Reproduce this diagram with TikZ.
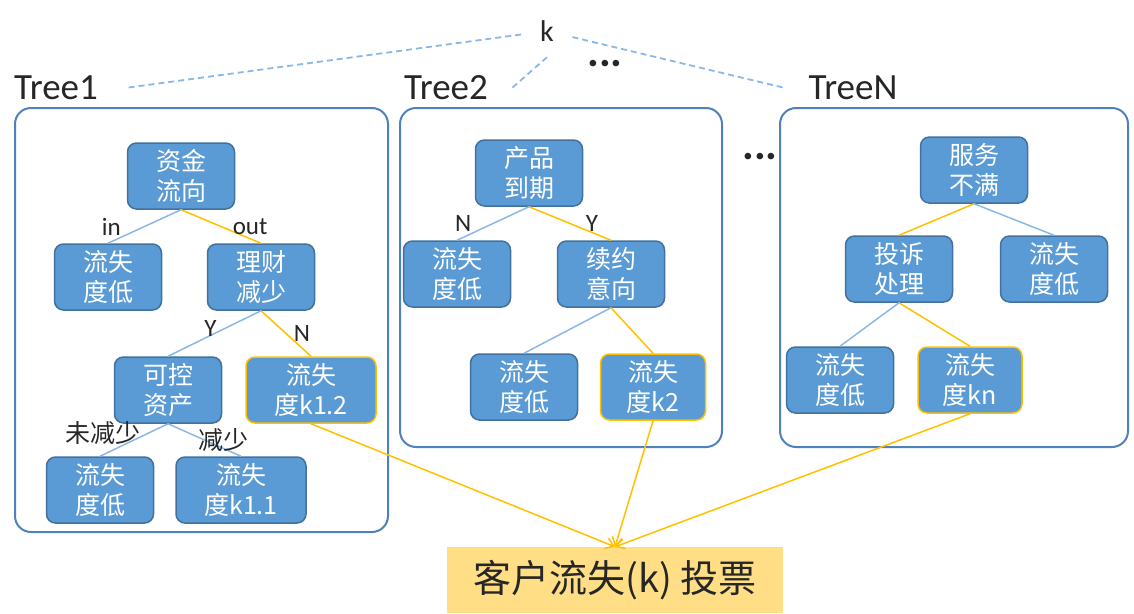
\documentclass[tikz,border=0pt]{standalone}
\usepackage{fontspec}
\usetikzlibrary{arrows.meta}
\setmainfont{Carlito}
\newfontfamily\cjk{Noto Sans CJK SC}
\definecolor{nodeblue}{HTML}{5B9BD5}
\definecolor{nodeedge}{HTML}{41719C}
\definecolor{boxedge}{HTML}{4F81BD}
\definecolor{edgeblue}{HTML}{8AB8E6}
\definecolor{gold}{HTML}{FFC000}
\definecolor{votefill}{HTML}{FFDE85}
\definecolor{labgray}{HTML}{262626}

\begin{document}
\begin{tikzpicture}[x=1pt, y=-1pt,
    tnode/.style={draw=nodeedge, line width=1.5pt, fill=nodeblue, rounded corners=9pt,
      text=white, minimum width=107pt, minimum height=66pt, inner sep=0pt, align=center,
      font=\cjk\fontsize{25}{30}\selectfont},
    hot/.style={tnode, draw=gold, minimum width=130pt},
    treebox/.style={draw=boxedge, line width=2pt, rounded corners=16pt},
    bl/.style={draw=edgeblue, line width=1.5pt},
    yl/.style={draw=gold, line width=1.5pt},
    vote arrow/.style={yl, -{Straight Barb[length=8pt, width=11pt]}},
    kline/.style={draw=edgeblue, line width=1.8pt, dash pattern=on 6pt off 4pt},
    lab/.style={text=labgray, font=\fontsize{25}{28}\selectfont, inner sep=1pt},
    cjklab/.style={text=labgray, font=\cjk\fontsize{25}{28}\selectfont, inner sep=1pt},
    treelab/.style={text=labgray, font=\fontsize{37}{40}\selectfont, inner sep=0pt},
    dotlab/.style={text=labgray, font=\bfseries\fontsize{44}{44}\selectfont, inner sep=0pt}]
  \useasboundingbox (0,0) rectangle (1134,613);

  \node [circle, minimum size=52pt, inner sep=0pt, text=labgray, font=\fontsize{30}{32}\selectfont] (k) at (547,31) {k};
  \node [treelab] (t1lab) at (56,88) {Tree1};
  \node [treelab] (t2lab) at (446,88) {Tree2};
  \node [treelab] (tnlab) at (853,88) {TreeN};
  \node [dotlab] (dots1) at (605,64) {...};
  \node [dotlab] (dots2) at (760,157) {...};

  \coordinate (e1) at (125,88);
  \coordinate (e2) at (512,88);
  \coordinate (en) at (785,88);
  \draw [kline] (k) -- (e1);
  \draw [kline] (k.south) -- (e2);
  \draw [kline] (k) -- (en);

  \draw [treebox] (15,108) rectangle (388,532);
  \draw [treebox] (400,108) rectangle (722,447);
  \draw [treebox] (780,108) rectangle (1128,447);

  % Tree1
  \node [tnode] (zj) at (181,176) {资金\\流向};
  \node [tnode] (a1) at (108,277) {流失\\度低};
  \node [tnode] (lc) at (261,277) {理财\\减少};
  \node [tnode] (kk) at (168,390) {可控\\资产};
  \node [hot] (k12) at (311,390) {流失\\度k1.2};
  \node [tnode] (a2) at (100,490) {流失\\度低};
  \node [tnode, minimum width=130pt] (k11) at (241,490) {流失\\度k1.1};
  \draw [bl] (zj.south) -- node [lab, left=22pt] {in} (a1.north);
  \draw [yl] (zj.south) -- node [lab, right=10pt] {out} (lc.north);
  \draw [bl] (lc.south) -- node [lab, above, xshift=-4pt, yshift=-5pt] {Y} (kk.north);
  \draw [yl] (lc.south) -- node [lab, right=6pt] {N} (k12.north);
  \draw [bl] (kk.south) -- node [cjklab, left=-8pt, yshift=7pt] {未减少} (a2.north);
  \draw [bl] (kk.south) -- node [cjklab, right=-8pt] {减少} (k11.north);

  % Tree2
  \node [tnode] (cp) at (529,173) {产品\\到期};
  \node [tnode] (b1) at (457,274) {流失\\度低};
  \node [tnode] (xy) at (611,274) {续约\\意向};
  \node [tnode] (b2) at (524,387) {流失\\度低};
  \node [hot, minimum width=105pt] (k2) at (653,387) {流失\\度k2};
  \draw [bl] (cp.south) -- node [lab, left=20pt] {N} (b1.north);
  \draw [yl] (cp.south) -- node [lab, right=14pt] {Y} (xy.north);
  \draw [bl] (xy.south) -- (b2.north);
  \draw [yl] (xy.south) -- (k2.north);

  % TreeN
  \node [tnode] (fw) at (974,170) {服务\\不满};
  \node [tnode] (ts) at (899,269) {投诉\\处理};
  \node [tnode] (c1) at (1054,269) {流失\\度低};
  \node [tnode] (c2) at (840,380) {流失\\度低};
  \node [hot, minimum width=104pt] (kn) at (970,380) {流失\\度kn};
  \draw [yl] (fw.south) -- (ts.north);
  \draw [bl] (fw.south) -- (c1.north);
  \draw [bl] (ts.south) -- (c2.north);
  \draw [yl] (ts.south) -- (kn.north);

  % vote
  \node [fill=votefill, minimum width=336pt, minimum height=66pt, inner sep=0pt,
    text=labgray, font=\cjk\fontsize{38}{42}\selectfont] (vote) at (615,580) {客户流失(k) 投票};
  \draw [vote arrow] (k12.south) -- (vote.north);
  \draw [vote arrow] (k2.south) -- (vote.north);
  \draw [vote arrow] (kn.south) -- (vote.north);
\end{tikzpicture}
\end{document}
